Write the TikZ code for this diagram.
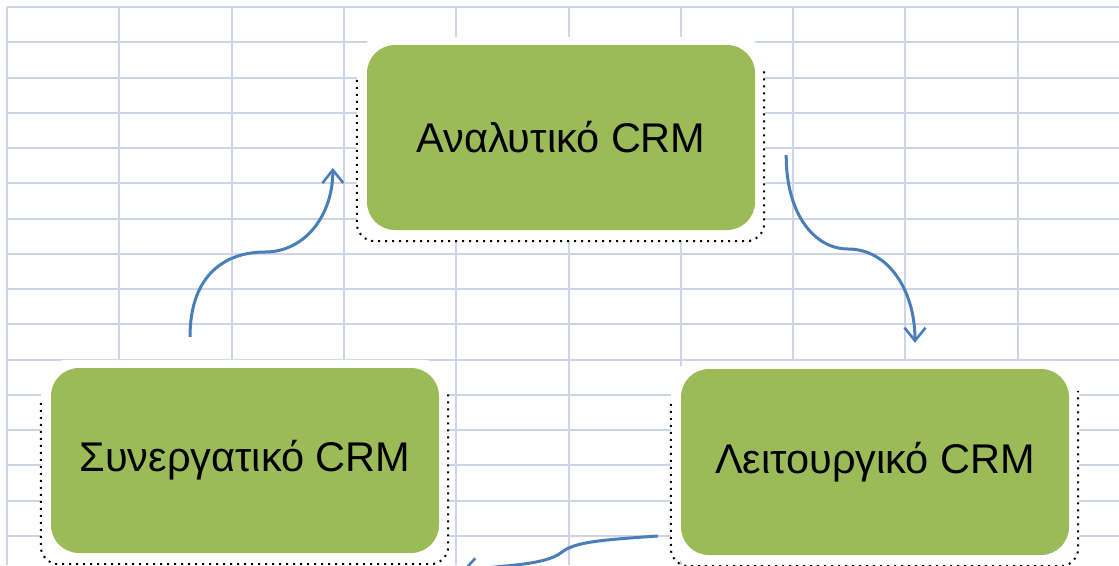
\documentclass[tikz,border=0pt]{standalone}
\usepackage{fontspec}
\setmainfont{Liberation Sans}
\usetikzlibrary{arrows.meta,calc}
\definecolor{gridc}{RGB}{204,212,230}
\definecolor{boxgreen}{RGB}{155,187,89}
\definecolor{arrowblue}{RGB}{74,126,187}
\pgfdeclarelayer{gridlayer}
\pgfdeclarelayer{halolayer}
\pgfsetlayers{gridlayer,halolayer,main}
\tikzset{
  gridline/.style={draw=gridc, line width=2pt},
  crm/.style={fill=boxgreen, rounded corners=28pt, minimum width=388pt, minimum height=185pt,
              inner sep=0pt, font=\fontsize{41.5}{44}\selectfont, text=black},
  halo/.style={fill=white, rounded corners=26pt},
  shadowline/.style={draw=black, line width=2pt, dash pattern=on 2pt off 5pt, rounded corners=18pt},
  flow/.style={draw=arrowblue, line width=3pt, -{Straight Barb[length=13pt,width=21pt,line width=2.6pt]}}
}
\begin{document}
\begin{tikzpicture}[x=1pt,y=-1pt]
\useasboundingbox (0,0) rectangle (1119,565);
\clip (0,0) rectangle (1119,565);

% nodes
\node[crm] (a) at (561,137.5) {\raisebox{-2pt}{Αναλυτικό CRM}};
\node[crm] (s) at (245,460.5) {\raisebox{-2pt}{Συνεργατικό CRM}};
\node[crm, minimum height=186pt] (l) at (875,462) {\raisebox{-2pt}{Λειτουργικό CRM}};

% grid
\begin{pgfonlayer}{gridlayer}
  \fill[white] (0,0) rectangle (1119,565);
  \foreach \i in {0,...,9} {
    \draw[gridline] ({7+112.3*\i},7) -- ({7+112.3*\i},565);
  }
  \foreach \j in {0,...,15} {
    \draw[gridline] (7,{7+35.25*\j}) -- (1119,{7+35.25*\j});
  }
\end{pgfonlayer}

% halos and dotted shadows
\begin{pgfonlayer}{halolayer}
  \foreach \b in {a,s,l} {
    \path[halo] ($(\b.north west)+(-10,-8)$) rectangle ($(\b.south east)+(10,11)$);
    \draw[shadowline] ($(\b.north west)+(-10,35)$) -- ($(\b.south west)+(-10,11)$)
          -- ($(\b.south east)+(9,11)$) -- ($(\b.north east)+(9,22)$);
  }
\end{pgfonlayer}

% connectors
\coordinate (out) at (462,571);
\draw[flow] ($(s.north)+(-55,-31)$) .. controls (190,275) and (225,252) .. (265,252)
   .. controls (305,252) and (333,215) .. ($(a.west)+(-34,30.5)$);
\draw[flow] ($(a.east)+(31,17.5)$) .. controls (786,215) and (815,249) .. (848,249)
   .. controls (888,249) and (915,290) .. ($(l.north)+(40,-26)$);
\draw[flow] ($(l.west)+(-23,74)$) .. controls (600,540) and (575,542) .. (562,552)
   .. controls (545,566) and (500,565) .. (out);
\end{tikzpicture}
\end{document}
